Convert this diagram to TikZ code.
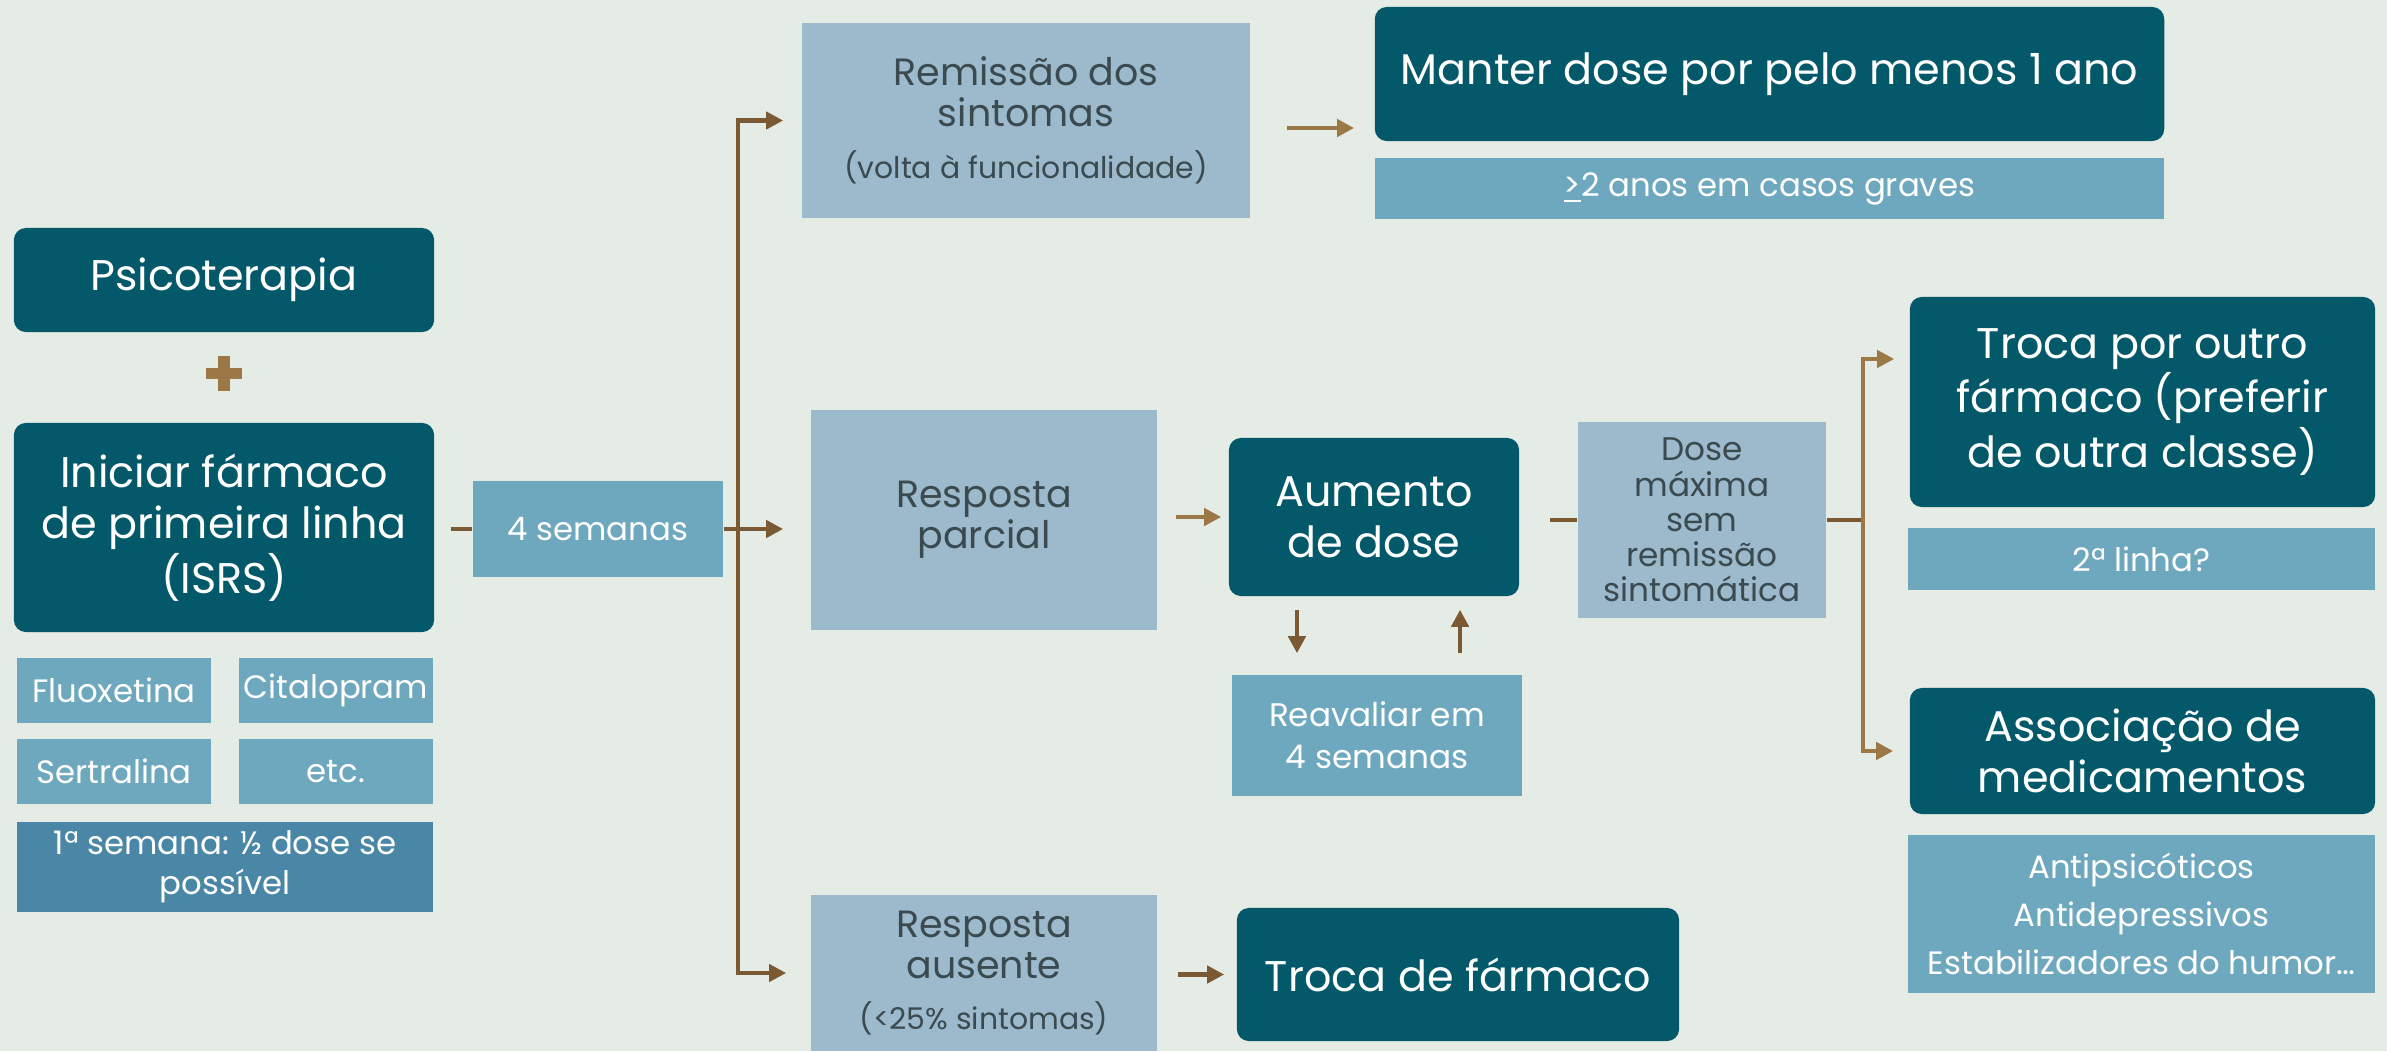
\documentclass[tikz,border=0pt]{standalone}
\usepackage{fontspec}
\setmainfont{Poppins}
\usepackage{tikz}
\usetikzlibrary{arrows.meta}
\usetikzlibrary{positioning}
\definecolor{mteal}{rgb}{0.01, 0.35, 0.41}
\definecolor{mblue}{rgb}{0.43, 0.66, 0.75}
\definecolor{mpale}{rgb}{0.61, 0.73, 0.80}
\definecolor{mdeep}{rgb}{0.29, 0.53, 0.65}
\definecolor{mbrown}{rgb}{0.48, 0.35, 0.20}
\definecolor{lbrown}{rgb}{0.61, 0.47, 0.28}
\definecolor{mback}{rgb}{0.90, 0.92, 0.90}
\definecolor{mtext}{rgb}{0.23, 0.29, 0.31}
\tikzset{wh/.style n args = {2}{minimum width=#1cm, minimum height=#2cm},
         darkbox/.style = {fill=mteal, rounded corners=0.12cm, text=white, align=center,
                           inner sep=0pt, font=\fontsize{12.2}{14.5}\selectfont},
         bluebox/.style = {fill=mblue, text=white, align=center,
                           inner sep=0pt, font=\fontsize{9.2}{11.5}\selectfont},
         palebox/.style = {fill=mpale, text=mtext, align=center,
                           inner sep=0pt, font=\fontsize{10.8}{11.6}\selectfont},
         link/.style = {draw=mbrown, line width=0.045cm},
         arr/.style = {link, -{Triangle[length=0.17cm, width=0.17cm]}}}

\begin{document}
\begin{tikzpicture}[x=0.01cm, y=-0.01cm]
    \fill [mback] (0, 0) rectangle (2387, 1051);
    \useasboundingbox (0, 0) rectangle (2387, 1051);
    \node [darkbox, wh={4.2}{1.04}] (psico) at (224, 280) {Psicoterapia};
    \draw [lbrown, line width=0.11cm] (224, 356) -- (224, 391) (206, 373) -- (242, 373);
    \node [darkbox, wh={4.2}{2.09}] (iniciar) at (224, 527.5) {Iniciar fármaco\\de primeira linha\\(ISRS)};
    \node [bluebox, wh={1.94}{0.65}] (fluox) at (114, 690.5) {Fluoxetina};
    \node [bluebox, wh={1.94}{0.65}] (cital) at (336, 690.5) {Citalopram};
    \node [bluebox, wh={1.94}{0.65}] (sert) at (114, 771.5) {Sertralina};
    \node [bluebox, wh={1.94}{0.65}] (etc) at (336, 771.5) {etc.};
    \node [bluebox, fill=mdeep, wh={4.16}{0.9}] (primsem) at (225, 867) {1ª semana: ½ dose se\\possível};
    \node [bluebox, wh={2.5}{0.96}] (quatro) at (598, 529) {4 semanas};
    \node [palebox, wh={4.48}{1.95}] (remissao) at (1026, 120.5)
      {Remissão dos\\sintomas\\[0.12cm]{\fontsize{8.5}{10}\selectfont (volta à funcionalidade)}};
    \node [darkbox, wh={7.89}{1.34}] (manter) at (1769.5, 74) {Manter dose por pelo menos 1 ano};
    \node [bluebox, wh={7.89}{0.61}] (anos) at (1769.5, 188.5) {\underline{>}2 anos em casos graves};
    \node [palebox, wh={3.46}{2.2}] (parcial) at (984, 520) {Resposta\\parcial};
    \node [darkbox, wh={2.9}{1.58}] (aumento) at (1374, 517) {Aumento\\de dose};
    \node [bluebox, wh={2.9}{1.21}, font=\fontsize{9.3}{12}\selectfont] (reavaliar) at (1377, 735.5) {Reavaliar em\\4 semanas};
    \node [palebox, wh={2.48}{1.96}, font=\fontsize{9.3}{10}\selectfont] (dosemax) at (1702, 520)
      {Dose\\máxima\\sem\\remissão\\sintomática};
    \node [darkbox, wh={4.65}{2.1}] (trocaoutro) at (2142.5, 402) {Troca por outro\\fármaco (preferir\\de outra classe)};
    \node [bluebox, wh={4.67}{0.62}] (segunda) at (2141.5, 559) {2ª linha?};
    \node [darkbox, wh={4.65}{1.26}] (assoc) at (2142.5, 751) {Associação de\\medicamentos};
    \node [bluebox, wh={4.67}{1.58}, font=\fontsize{9.2}{13.6}\selectfont] (classes) at (2141.5, 914)
      {Antipsicóticos\\Antidepressivos\\Estabilizadores do humor…};
    \node [palebox, wh={3.46}{1.56}] (ausente) at (984, 973)
      {Resposta\\ausente\\[0.1cm]{\fontsize{8.5}{10}\selectfont (<25\% sintomas)}};
    \node [darkbox, wh={4.42}{1.33}] (trocafarm) at (1458, 974.5) {Troca de fármaco};
    \coordinate [right=0.14cm of quatro.east] (fork);
    \coordinate [right=0.36cm of dosemax.east] (fork2);
    \draw [link, shorten <=0.16cm] (iniciar.east |- quatro) -- (quatro.west);
    \draw [arr, shorten >=0.27cm] (quatro.east) -- (quatro.east -| parcial.west);
    \draw [arr, shorten >=0.18cm] (fork) |- (remissao.west);
    \draw [arr, shorten >=0.24cm] (fork) |- (ausente.west);
    \draw [arr, lbrown, shorten <=0.36cm, shorten >=0.2cm] ([yshift=-0.075cm]remissao.east)
      -- ([yshift=-0.075cm]remissao.east -| manter.west);
    \draw [arr, lbrown, shorten <=0.18cm, shorten >=0.07cm] (parcial.east |- aumento) -- (aumento.west);
    \draw [arr, shorten <=0.13cm, shorten >=0.21cm] ([xshift=-0.77cm]aumento.south)
      -- ([xshift=-0.77cm]aumento.south |- reavaliar.north);
    \draw [arr, shorten <=0.21cm, shorten >=0.13cm] ([xshift=0.86cm]aumento.south |- reavaliar.north)
      -- ([xshift=0.86cm]aumento.south);
    \draw [link, shorten <=0.3cm] (aumento.east |- dosemax) -- (dosemax.west);
    \draw [link] (dosemax.east) -- (fork2);
    \draw [arr, lbrown, shorten >=0.15cm] (fork2) |- ([yshift=0.43cm]trocaoutro.west);
    \draw [arr, lbrown, shorten >=0.16cm] (fork2) |- (assoc.west);
    \draw [arr, shorten <=0.2cm, shorten >=0.12cm] (ausente.east |- trocafarm) -- (trocafarm.west);
  \end{tikzpicture}
\end{document}
